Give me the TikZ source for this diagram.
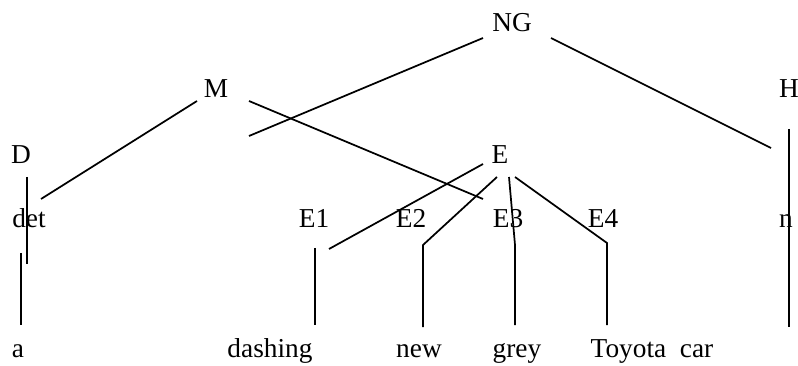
\documentclass[tikz,border=0pt]{standalone}
\usepackage{fontspec}
\setmainfont{Liberation Serif}
\usetikzlibrary{positioning}
\tikzset{
  lbl/.style={inner sep=0pt, anchor=base, font=\fontsize{20.5}{24}\selectfont},
  br/.style={black, line width=1.3pt}
}

\begin{document}
\begin{tikzpicture}[x=0.75pt,y=-0.75pt]
  \useasboundingbox (0,0) rectangle (798,366);
  % labels
  \node[lbl] (ng) at (512,32) {NG};
  \node[lbl] (m) at (216,98) {M};
  \node[lbl] (h) at (789,98) {H};
  \node[lbl] (d) at (21,164) {D};
  \node[lbl] (e) at (500,164) {E};
  \node[lbl] (det) at (29,228) {det};
  \node[lbl] (e1) at (314,228) {E1};
  \node[lbl] (e2) at (411,228) {E2};
  \node[lbl] (e3) at (508,228) {E3};
  \node[lbl] (e4) at (603,228) {E4};
  \node[lbl] (n) at (786,228) {n};
  \node[lbl] (a) at (18,357) {a};
  \node[lbl] (dashing) at (270,357) {dashing};
  \node[lbl] (new) at (419,357) {new};
  \node[lbl] (grey) at (517,357) {grey};
  \node[lbl] (toyota) at (652,357) {Toyota\ \ car};
  % line ends
  \coordinate (ngl) at (483,38);
  \coordinate (ngr) at (551,38);
  \coordinate (ngx) at (249,136);
  \coordinate (htop) at (771,148);
  \coordinate (hv1) at (789,129);
  \coordinate (hv2) at (789,327);
  \coordinate (ml) at (197,101);
  \coordinate (mr) at (249,101);
  \coordinate (detx) at (41,199);
  \coordinate (e3x) at (483,199);
  \coordinate (dv1) at (27,177);
  \coordinate (dv2) at (27,264);
  \coordinate (av1) at (21,253);
  \coordinate (av2) at (21,325);
  \coordinate (el) at (483,164);
  \coordinate (e1x) at (329,249);
  \coordinate (e1v1) at (315,248);
  \coordinate (e1v2) at (315,325);
  \coordinate (ea) at (497,177);
  \coordinate (eb) at (509,177);
  \coordinate (ec) at (515,177);
  \coordinate (e2k) at (423,245);
  \coordinate (e2b) at (423,327);
  \coordinate (e3k) at (515,245);
  \coordinate (e3b) at (515,325);
  \coordinate (e4k) at (607,243);
  \coordinate (e4b) at (607,325);
  % branches
  \draw[br] (ngl) -- (ngx);
  \draw[br] (ngr) -- (htop);
  \draw[br] (hv1) -- (hv2);
  \draw[br] (ml) -- (detx);
  \draw[br] (mr) -- (e3x);
  \draw[br] (dv1) -- (dv2);
  \draw[br] (av1) -- (av2);
  \draw[br] (el) -- (e1x);
  \draw[br] (e1v1) -- (e1v2);
  \draw[br] (ea) -- (e2k) -- (e2b);
  \draw[br] (eb) -- (e3k) -- (e3b);
  \draw[br] (ec) -- (e4k) -- (e4b);
\end{tikzpicture}
\end{document}
